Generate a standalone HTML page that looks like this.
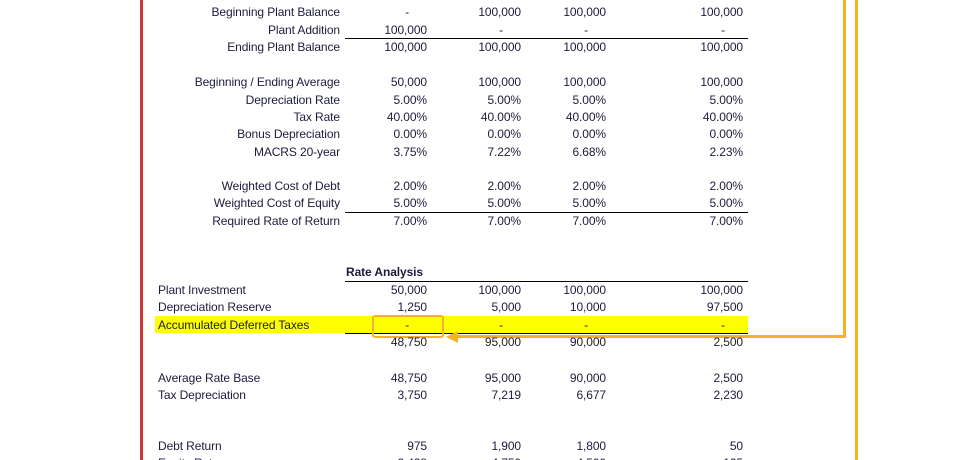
<!DOCTYPE html>
<html style="overflow:hidden;height:460px"><head><meta charset="utf-8"><style>
body{margin:0;width:972px;height:460px;overflow:hidden;background:#fff;position:relative;font-family:"Liberation Sans",Arial,sans-serif;font-size:12px;color:#1c1c3c;letter-spacing:-0.1px}
.t{position:absolute;white-space:nowrap;line-height:14px}
.ln{position:absolute;background:#000;height:1px}
</style></head><body>
<div style="position:absolute;left:140px;top:0;width:3px;height:460px;background:#c83a3a"></div>
<div style="position:absolute;left:155px;top:316px;width:593px;height:17px;background:#ffff00"></div>
<div class="ln" style="left:345px;top:38px;width:403px"></div>
<div class="ln" style="left:345px;top:212px;width:403px"></div>
<div class="ln" style="left:345px;top:281px;width:403px"></div>
<div class="ln" style="left:345px;top:333px;width:403px"></div>
<div style="position:absolute;left:372px;top:315px;width:68px;height:19px;border:2px solid #f5b324;border-radius:3px"></div>
<div style="position:absolute;left:843px;top:0;width:3px;height:338px;background:#f5b324"></div>
<div style="position:absolute;left:455px;top:335px;width:391px;height:3px;background:#f5b324"></div>
<div style="position:absolute;left:446px;top:331px;width:0;height:0;border-top:6px solid transparent;border-bottom:6px solid transparent;border-right:12px solid #f5b324"></div>
<div style="position:absolute;left:855px;top:0;width:3px;height:460px;background:#f5b324"></div>
<div class="t" style="left:346px;top:265px;font-weight:bold">Rate Analysis</div>
<script>
const cols=[427,521,606,743];
const rows=[
[12,'Beginning Plant Balance','r',['-','100,000','100,000','100,000']],
[30,'Plant Addition','r',['100,000','-','-','-']],
[47,'Ending Plant Balance','r',['100,000','100,000','100,000','100,000']],
[82,'Beginning / Ending Average','r',['50,000','100,000','100,000','100,000']],
[100,'Depreciation Rate','r',['5.00%','5.00%','5.00%','5.00%']],
[117,'Tax Rate','r',['40.00%','40.00%','40.00%','40.00%']],
[134,'Bonus Depreciation','r',['0.00%','0.00%','0.00%','0.00%']],
[152,'MACRS 20-year','r',['3.75%','7.22%','6.68%','2.23%']],
[186,'Weighted Cost of Debt','r',['2.00%','2.00%','2.00%','2.00%']],
[203,'Weighted Cost of Equity','r',['5.00%','5.00%','5.00%','5.00%']],
[221,'Required Rate of Return','r',['7.00%','7.00%','7.00%','7.00%']],
[290,'Plant Investment','l',['50,000','100,000','100,000','100,000']],
[307,'Depreciation Reserve','l',['1,250','5,000','10,000','97,500']],
[325,'Accumulated Deferred Taxes','l',['-','-','-','-']],
[342,'','l',['48,750','95,000','90,000','2,500']],
[378,'Average Rate Base','l',['48,750','95,000','90,000','2,500']],
[395,'Tax Depreciation','l',['3,750','7,219','6,677','2,230']],
[446,'Debt Return','l',['975','1,900','1,800','50']],
[463,'Equity Return','l',['2,438','4,750','4,500','125']]
];
rows.forEach(r=>{
  if(r[1]){
    const d=document.createElement('div');
    d.className='t';
    
    
    d.textContent=r[1];
    d.style.top=(r[0]-7)+'px';
    if(r[2]==='r'){d.style.right=(972-340)+'px';}else{d.style.left='158px';}
    document.body.appendChild(d);
  }
  r[3].forEach((v,i)=>{
    const c=document.createElement('div');
    c.className='t';
    
    
    c.textContent=v;
    c.style.top=(r[0]-7)+'px';
    c.style.right=(972-cols[i]+(v==='-'?18:0))+'px';
    document.body.appendChild(c);
  });
});
</script>
</body></html>
